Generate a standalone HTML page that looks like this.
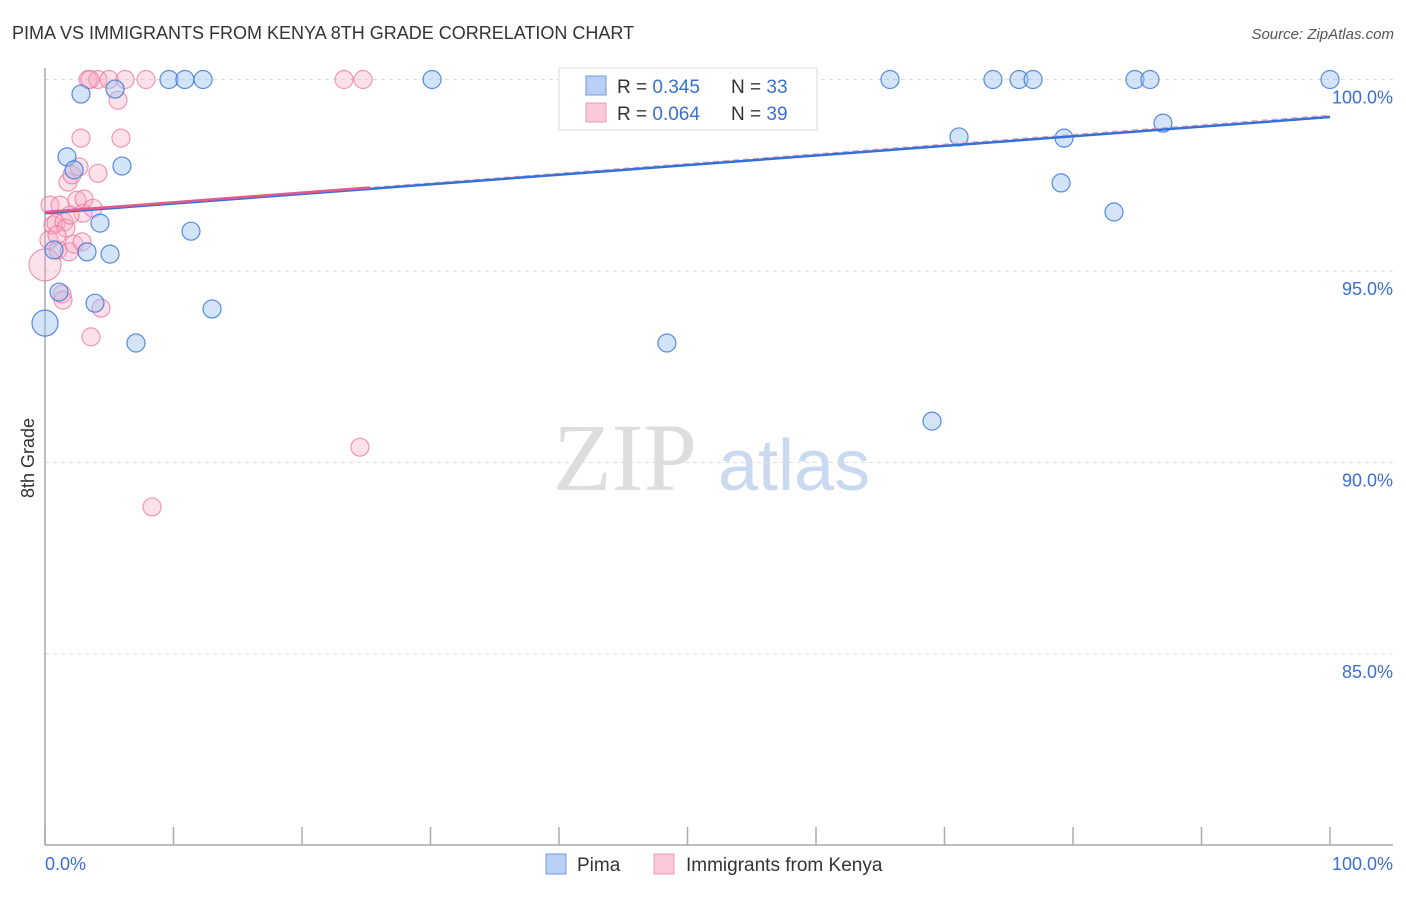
<!DOCTYPE html>
<html><head><meta charset="utf-8"><style>
body{margin:0;background:#fff;font-family:"Liberation Sans",sans-serif}
svg text{font-family:"Liberation Sans",sans-serif}
</style></head><body>
<svg id="c" width="1406" height="892" viewBox="0 0 1406 892">
<text x="12" y="39" font-size="18" fill="#333">PIMA VS IMMIGRANTS FROM KENYA 8TH GRADE CORRELATION CHART</text>
<text x="1394" y="39" font-size="15" fill="#555" font-style="italic" text-anchor="end">Source: ZipAtlas.com</text>
<text x="34" y="458" font-size="18" fill="#333" transform="rotate(-90 34 458)" text-anchor="middle">8th Grade</text>
<g>
<text x="553" y="490" font-size="96" fill="#ddd" font-family="Liberation Serif" style="font-family:'Liberation Serif',serif">ZIP</text>
<text x="718" y="490" font-size="72" fill="#c9d9f0">atlas</text>
</g>
<g id="grid"></g><g id="axes"></g><g id="pts"></g><g id="lines"></g>
<g>
<rect x="559" y="68" width="258" height="62" fill="#fff" stroke="#ddd"/>
<rect x="586" y="76" width="20" height="19" fill="#b8d0f5" stroke="#6d9be0"/>
<rect x="586" y="103" width="20" height="19" fill="#fbc9d8" stroke="#ee98b4"/>
<text x="617" y="93" font-size="19" fill="#333">R = <tspan fill="#3a6fd1">0.345</tspan><tspan x="731">N = </tspan><tspan fill="#3a6fd1">33</tspan></text>
<text x="617" y="120" font-size="19" fill="#333">R = <tspan fill="#3a6fd1">0.064</tspan><tspan x="731">N = </tspan><tspan fill="#3a6fd1">39</tspan></text>
</g>
<g>
<rect x="546" y="854" width="20" height="20" fill="#b8d0f5" stroke="#6d9be0"/>
<text x="577" y="871" font-size="19" fill="#333">Pima</text>
<rect x="654" y="854" width="20" height="20" fill="#fbc9d8" stroke="#ee98b4"/>
<text x="686" y="871" font-size="19" fill="#333">Immigrants from Kenya</text>
</g>
</svg>
<script>
const yTicks=[85,90,95,100];
const xTickVals=[0,10,20,30,40,50,60,70,80,90,100];
const pimaX=[0,0.7,1.09,1.71,2.26,2.8,3.27,3.89,4.28,5.06,5.45,5.99,7.08,9.65,10.89,11.36,12.3,13,30.12,48.4,65.76,69.03,71.13,73.77,75.8,76.89,79.07,79.3,83.19,84.82,85.99,87,100];
const pimaY=[93.64,95.55,94.45,97.98,97.64,99.62,95.5,94.16,96.25,95.44,99.75,97.74,93.12,100,100,96.04,100,94.01,100,93.12,100,91.08,98.5,100,100,100,97.3,98.47,96.54,100,100,98.86,100];
const kenyaX=[0,0.31,0.39,0.62,0.86,1.01,1.17,1.32,1.4,1.48,1.63,1.79,1.87,2.1,2.26,2.49,2.65,2.8,2.88,2.96,3.04,3.35,3.58,3.74,4.12,4.12,4.36,4.98,5.68,5.91,6.23,7.86,8.33,23.27,24.51,24.75,1.95,0.93,3.5];
const kenyaY=[95.16,95.81,96.72,96.2,96.25,95.55,96.72,94.4,94.24,96.28,96.12,97.32,95.5,97.51,95.7,96.85,97.72,98.47,95.76,96.51,96.88,100,93.28,96.64,97.55,100,94.03,100,99.46,98.47,100,100,88.84,100,90.4,100,96.46,95.94,100];
const pimaFit=[96.51,99.02];
const kenyaFit=[96.54,99.07];
const X=v=>45+v*12.85, Y=v=>79.5+(100-v)*38.3;
const NS='http://www.w3.org/2000/svg';
function mk(p,t,a){const e=document.createElementNS(NS,t);for(const k in a)e.setAttribute(k,a[k]);p.appendChild(e);return e;}
const grid=document.getElementById('grid'),axes=document.getElementById('axes'),pts=document.getElementById('pts'),lines=document.getElementById('lines');
yTicks.forEach(v=>{
 const l=mk(grid,'line',{x1:45,x2:1393,y1:Y(v),y2:Y(v),stroke:'#ddd','stroke-dasharray':'4,4'});
 
 
 const t=mk(grid,'text',{x:1393,y:Y(v)+24,'font-size':18,fill:'#3a6fd1','text-anchor':'end'});
 t.textContent=v.toFixed(1)+'%';
 
 
});
const ya=mk(axes,'line',{x1:45,x2:45,y1:68,y2:845,stroke:'#aaa','stroke-width':1.5});


const xa=mk(axes,'line',{x1:45,x2:1393,y1:845,y2:845,stroke:'#aaa','stroke-width':1.5});


xTickVals.forEach(v=>{
 const l=mk(axes,'line',{x1:X(v),x2:X(v),y1:827,y2:845,stroke:'#aaa','stroke-width':1.5});
 
 
});
[[0,'start','0.0%'],[100,'end','100.0%']].forEach(([v,a,s])=>{
 const t=mk(axes,'text',{x:v===0?45:1393,y:870,'font-size':18,fill:'#3a6fd1','text-anchor':a});
 t.textContent=s;
 
 
});
kenyaX.forEach((x,i)=>{
 const c=mk(pts,'circle',{cx:X(x),cy:Y(kenyaY[i]),r:i===0?16:9,fill:'rgba(248,170,195,0.35)',stroke:'rgba(232,120,160,0.75)','stroke-width':1.2});
 
 
});
pimaX.forEach((x,i)=>{
 const c=mk(pts,'circle',{cx:X(x),cy:Y(pimaY[i]),r:i===0?13:9,fill:'rgba(160,195,240,0.45)',stroke:'rgba(60,120,215,0.85)','stroke-width':1.2});
 
 
});
const kd=mk(lines,'line',{x1:X(0),y1:Y(kenyaFit[0]),x2:X(100),y2:Y(kenyaFit[1]),stroke:'#e8a0b8','stroke-width':1.2,'stroke-dasharray':'6,4'});


const bl=mk(lines,'line',{x1:X(0),y1:Y(pimaFit[0]),x2:X(100),y2:Y(pimaFit[1]),stroke:'#3570d6','stroke-width':2.5});


const ke=25.3;
const kl=mk(lines,'line',{x1:X(0),y1:Y(kenyaFit[0]),x2:X(ke),y2:Y(kenyaFit[0]+(kenyaFit[1]-kenyaFit[0])*ke/100),stroke:'#e8578a','stroke-width':2.5});


</script>
</body></html>
